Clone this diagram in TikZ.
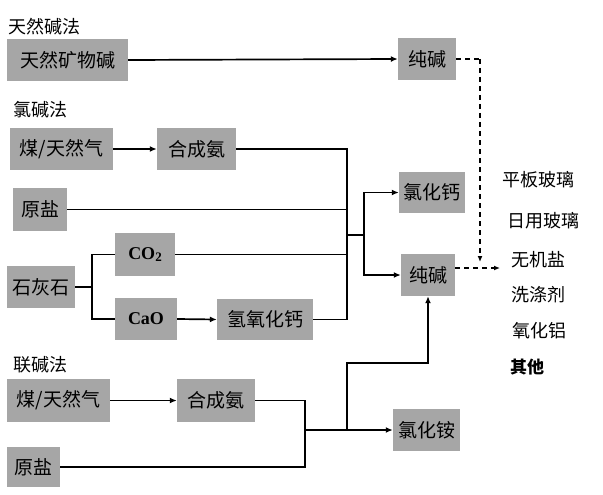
\documentclass[tikz,border=0pt]{standalone}
\usepackage{fontspec}
\setmainfont{Liberation Serif}
\newfontfamily\cjk{Noto Sans CJK SC}
\usetikzlibrary{arrows.meta}
\tikzset{
  box/.style={fill=black!35, inner sep=0pt, font=\cjk\fontsize{19}{21}\selectfont},
  title/.style={anchor=west, inner sep=0pt, font=\cjk\fontsize{18}{20}\selectfont},
  use/.style={inner sep=0pt, font=\cjk\fontsize{18}{20}\selectfont},
  line/.style={line width=1.7pt},
  arr/.style={line width=1.7pt, -{Latex[length=7pt,width=6pt]}},
  darr/.style={line width=1.5pt, dash pattern=on 5pt off 4pt, -{Latex[length=6pt,width=5pt]}},
}
\begin{document}
\begin{tikzpicture}[x=1pt,y=-1pt]
\useasboundingbox (0,0) rectangle (603,495);
% titles
\node[title] (t1) at (8,27) {天然碱法};
\node[title] (t2) at (13,110) {氯碱法};
\node[title] (t3) at (13,365) {联碱法};
% boxes
\node[box, minimum width=121pt, minimum height=42pt] (b1) at (67.5,60) {天然矿物碱};
\node[box, minimum width=58pt, minimum height=42pt] (s1) at (427,59) {纯碱};
\node[box, minimum width=103pt, minimum height=42pt] (b2) at (61.5,149) {煤/天然气};
\node[box, minimum width=79pt, minimum height=42pt] (b3) at (196.5,149) {合成氨};
\node[box, minimum width=54pt, minimum height=43pt] (b4) at (40,209.5) {原盐};
\node[box, minimum width=68pt, minimum height=42pt] (b5) at (41,287) {石灰石};
\node[box, minimum width=60pt, minimum height=43pt, font=\rmfamily\bfseries\fontsize{18}{20}\selectfont] (b6) at (145,254.5) {CO\raisebox{-0.35ex}{\fontsize{13}{14}\selectfont 2}};
\node[box, minimum width=62pt, minimum height=42pt, font=\rmfamily\bfseries\fontsize{18}{20}\selectfont] (b7) at (146,319) {CaO};
\node[box, minimum width=96pt, minimum height=41pt] (b8) at (265,319.5) {氢氧化钙};
\node[box, minimum width=66pt, minimum height=41pt] (c1) at (432,192.5) {氯化钙};
\node[box, minimum width=54pt, minimum height=42pt] (s2) at (428,275) {纯碱};
\node[box, minimum width=103pt, minimum height=43pt] (b9) at (58.5,400.5) {煤/天然气};
\node[box, minimum width=78pt, minimum height=43pt] (b10) at (216,400.5) {合成氨};
\node[box, minimum width=53pt, minimum height=40pt] (b11) at (33.5,467) {原盐};
\node[box, minimum width=67pt, minimum height=42pt] (c2) at (426.5,430) {氯化铵};
% uses
\node[use] (u1) at (538,180) {平板玻璃};
\node[use] (u2) at (543,221) {日用玻璃};
\node[use] (u3) at (538,260) {无机盐};
\node[use] (u4) at (538,295) {洗涤剂};
\node[use] (u5) at (539,331) {氧化铝};
\node[use, font=\cjk\bfseries\fontsize{17}{19}\selectfont] (u6) at (527,367) {其他};
% coordinates
\coordinate (v) at (347,0);
\coordinate (j1) at (347,235);
\coordinate (j2) at (364,235);
\coordinate (f) at (92,287);
\coordinate (w) at (305,0);
\coordinate (k1) at (347,430);
\coordinate (k2) at (347,363);
\coordinate (d1) at (480,59);
\coordinate (d2) at (480,262);
\coordinate (d3) at (500,268);
% natural soda
\draw[arr] (b1.east) -- (s1.west);
\draw[line, line width=1.5pt, dash pattern=on 5pt off 4pt] (s1.east) -- (d1);
\draw[darr] (d1) -- (d2);
% chlor-alkali / ammonia-soda
\draw[arr] (b2.east) -- (b3.west);
\draw[line] (b3.east) -| (v |- b8.east) -- (b8.east);
\draw[line] (b4.east) -- (v |- b4.east);
\draw[line] (b6.east) -- (v |- b6.east);
\draw[line] (b5.east) -- (f);
\draw[line] (b6.west) -| (f) |- (b7.west);
\draw[arr] (b7.east) -- (b8.west);
\draw[line] (j1) -- (j2);
\draw[arr] (j2) |- (c1.west);
\draw[arr] (j2) |- (s2.west);
\draw[darr] ([yshift=7pt]s2.east) -- (d3);
% joint process
\draw[arr] (b9.east) -- (b10.west);
\draw[line] (b10.east) -| (w |- b11.east) -- (b11.east);
\draw[arr] (w |- c2.west) -- (c2.west);
\draw[arr] (k1) -- (k2) -| (s2.south);
\end{tikzpicture}
\end{document}
